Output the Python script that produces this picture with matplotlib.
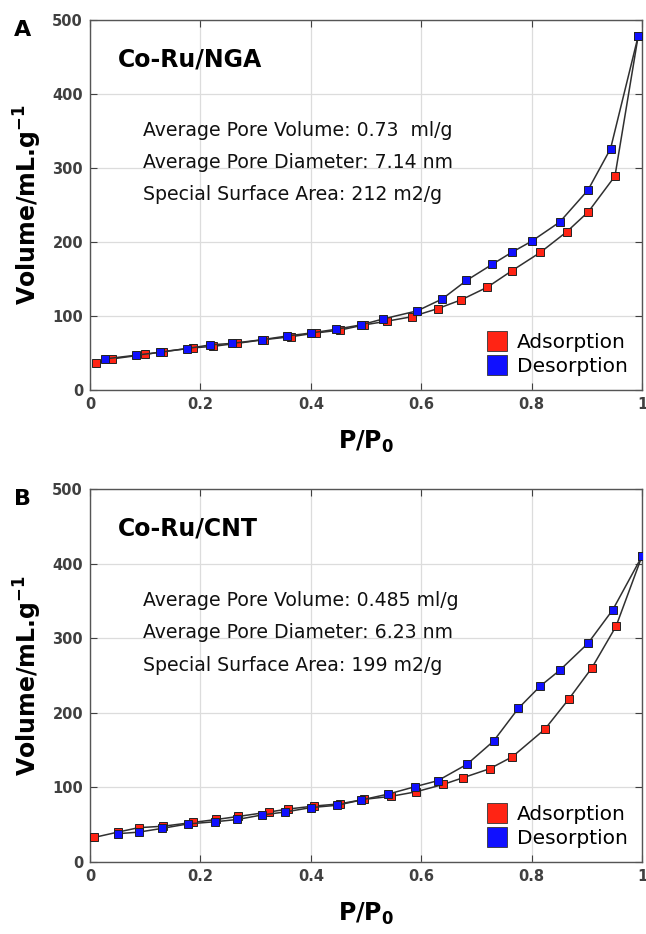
import matplotlib
matplotlib.use("Agg")
import matplotlib.pyplot as plt
from matplotlib.lines import Line2D

# Co-Ru/NGA isotherm
nga_ads_x = [0.01, 0.04, 0.10, 0.133, 0.187, 0.223, 0.266, 0.315, 0.364, 0.409, 0.453,
             0.497, 0.538, 0.583, 0.63, 0.673, 0.72, 0.764, 0.816, 0.864, 0.903, 0.951, 0.993]
nga_ads_y = [36, 42, 48, 52, 57, 59, 63, 68, 72, 77, 81,
             88, 93, 99, 110, 122, 139, 161, 186, 214, 241, 289, 478]
nga_des_x = [0.993, 0.943, 0.902, 0.851, 0.80, 0.764, 0.729, 0.682, 0.638, 0.593, 0.531,
             0.491, 0.445, 0.40, 0.357, 0.312, 0.257, 0.218, 0.176, 0.127, 0.083, 0.027]
nga_des_y = [478, 326, 270, 227, 201, 186, 170, 148, 123, 107, 96,
             88, 82, 77, 73, 68, 63, 61, 56, 51, 47, 42]

# Co-Ru/CNT isotherm
cnt_ads_x = [0.008, 0.05, 0.088, 0.133, 0.186, 0.229, 0.268, 0.324, 0.359, 0.406, 0.453,
             0.497, 0.545, 0.59, 0.64, 0.676, 0.724, 0.765, 0.824, 0.867, 0.909, 0.953, 1.0]
cnt_ads_y = [33, 40, 46, 48, 53, 57, 61, 67, 71, 75, 78,
             84, 88, 94, 104, 113, 125, 141, 178, 218, 260, 316, 410]
cnt_des_x = [1.0, 0.947, 0.902, 0.851, 0.816, 0.776, 0.731, 0.683, 0.63, 0.589, 0.54,
             0.491, 0.447, 0.401, 0.353, 0.311, 0.267, 0.227, 0.177, 0.13, 0.088, 0.051]
cnt_des_y = [410, 338, 293, 257, 236, 206, 162, 131, 109, 101, 91,
             83, 76, 73, 67, 63, 57, 54, 51, 45, 40, 38]

panels = [
    ("A", "Co-Ru/NGA", nga_ads_x, nga_ads_y, nga_des_x, nga_des_y,
     ["Average Pore Volume: 0.73  ml/g",
      "Average Pore Diameter: 7.14 nm",
      "Special Surface Area: 212 m2/g"]),
    ("B", "Co-Ru/CNT", cnt_ads_x, cnt_ads_y, cnt_des_x, cnt_des_y,
     ["Average Pore Volume: 0.485 ml/g",
      "Average Pore Diameter: 6.23 nm",
      "Special Surface Area: 199 m2/g"]),
]

RED = "#ff2414"
BLUE = "#1010ff"
W, H = 646, 934

fig = plt.figure(figsize=(W / 100, H / 100), dpi=100)
rects = [
    [90 / W, (H - 390) / H, 552 / W, 370 / H],
    [90 / W, (H - 862) / H, 552 / W, 373 / H],
]

for rect, (tag, name, ax_x, ax_y, de_x, de_y, info) in zip(rects, panels):
    ax = fig.add_axes(rect)
    ax.plot(ax_x, ax_y, color="#303030", lw=1.1, marker="s", ms=5.8,
            mfc=RED, mec="#222222", mew=0.7, zorder=3)
    ax.plot(de_x, de_y, color="#303030", lw=1.1, marker="s", ms=5.8,
            mfc=BLUE, mec="#222222", mew=0.7, zorder=4)

    ax.set_xlim(0, 1)
    ax.set_ylim(0, 500)
    ax.set_xticks([0, 0.2, 0.4, 0.6, 0.8, 1])
    ax.set_xticklabels(["0", "0.2", "0.4", "0.6", "0.8", "1"])
    ax.set_yticks([0, 100, 200, 300, 400, 500])
    ax.grid(True, color="#dcdcdc", lw=0.9)
    ax.set_axisbelow(True)
    ax.tick_params(direction="in", top=True, right=True, length=5,
                   color="#404040", labelcolor="#404040", labelsize=10.5, pad=5)
    for lab in ax.get_xticklabels() + ax.get_yticklabels():
        lab.set_fontweight("bold")
    for sp in ax.spines.values():
        sp.set_color("#555555")
        sp.set_linewidth(1.0)

    ax.set_xlabel("P/P$_\\mathbf{0}$", fontsize=17, fontweight="bold", labelpad=12)
    ax.set_ylabel("Volume/mL.g$^{\\mathbf{-1}}$", fontsize=17, fontweight="bold", labelpad=6)

    ax.text(0.05, 447, name, fontsize=17, fontweight="bold", va="center")
    for i, line in enumerate(info):
        ax.text(0.096, 350 - i * 43, line, fontsize=13.6, va="center", color="#111111")

    handles = [
        Line2D([], [], ls="none", marker="s", ms=14, mfc=RED, mec="#333333", mew=0.6),
        Line2D([], [], ls="none", marker="s", ms=14, mfc=BLUE, mec="#333333", mew=0.6),
    ]
    ax.legend(handles, ["Adsorption", "Desorption"], loc="lower right",
              frameon=False, fontsize=14.5, handlelength=1.0, handletextpad=0.5,
              labelspacing=0.25, borderaxespad=0.3)

    ax.text(-0.123, 1.0, tag, transform=ax.transAxes, fontsize=16,
            fontweight="bold", va="top", ha="center")

fig.savefig("out.png", dpi=100)
